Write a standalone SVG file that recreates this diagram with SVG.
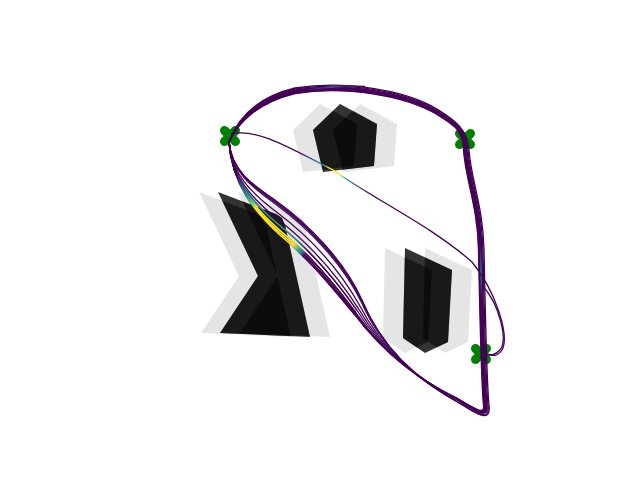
<svg xmlns="http://www.w3.org/2000/svg" xmlns:xlink="http://www.w3.org/1999/xlink" width="640" height="480" viewBox="0 0 640 480">
<style>
.light{fill:#e5e5e5;stroke:none}
.dark{fill:#333333;stroke:none}
.ov{fill:#000000;fill-opacity:0.5;stroke:none}
.mk{stroke:#008000;stroke-width:9;stroke-linecap:round;fill:none}
.tr{fill:none;stroke:#440154;stroke-width:1.3;stroke-linejoin:round}
.hl{stroke-width:1.6}
</style>
<defs>
<polygon id="pent" points="340,104 377,124 374,166 323,172 313,130"/>
<polygon id="chev" points="218,192 276,214 282,218 285,225 310,337 220,333 258,276"/>
<polygon id="rect" points="405,248 452,270 448,342 425,353 403,338"/>
<clipPath id="cpPent"><use xlink:href="#pent"/></clipPath>
<clipPath id="cpChev"><use xlink:href="#chev"/></clipPath>
<clipPath id="cpRect"><use xlink:href="#rect"/></clipPath>
<linearGradient id="gY" gradientUnits="userSpaceOnUse" x1="235" y1="175" x2="302" y2="257">
<stop offset="0" stop-color="#440154"/><stop offset="0.12" stop-color="#3b528b"/><stop offset="0.22" stop-color="#21918c"/><stop offset="0.3" stop-color="#5ec962"/><stop offset="0.37" stop-color="#fde725"/><stop offset="0.86" stop-color="#fde725"/><stop offset="0.92" stop-color="#35b779"/><stop offset="0.97" stop-color="#31688e"/><stop offset="1" stop-color="#440154"/>
</linearGradient>
<linearGradient id="gT" gradientUnits="userSpaceOnUse" x1="235" y1="175" x2="302" y2="257">
<stop offset="0" stop-color="#440154"/><stop offset="0.15" stop-color="#31688e"/><stop offset="0.35" stop-color="#21918c"/><stop offset="0.6" stop-color="#35b779"/><stop offset="0.85" stop-color="#21918c"/><stop offset="1" stop-color="#440154"/>
</linearGradient>
<linearGradient id="gThin" gradientUnits="userSpaceOnUse" x1="300" y1="152" x2="372" y2="192">
<stop offset="0" stop-color="#440154"/><stop offset="0.2" stop-color="#31688e"/><stop offset="0.33" stop-color="#21918c"/><stop offset="0.4" stop-color="#fde725"/><stop offset="0.56" stop-color="#fde725"/><stop offset="0.66" stop-color="#21918c"/><stop offset="0.82" stop-color="#3b528b"/><stop offset="1" stop-color="#440154"/>
</linearGradient>
<linearGradient id="gV" gradientUnits="userSpaceOnUse" x1="480" y1="245" x2="482" y2="300">
<stop offset="0" stop-color="#440154"/><stop offset="0.5" stop-color="#21918c"/><stop offset="1" stop-color="#440154"/>
</linearGradient>
<linearGradient id="gB" gradientUnits="userSpaceOnUse" x1="305" y1="90" x2="360" y2="88">
<stop offset="0" stop-color="#440154"/><stop offset="0.5" stop-color="#3b528b"/><stop offset="1" stop-color="#440154"/>
</linearGradient>
</defs>
<rect width="640" height="480" fill="#ffffff"/>
<g id="obstacle-pentagon">
<use xlink:href="#pent" class="light" transform="translate(-20,0)"/>
<use xlink:href="#pent" class="light" transform="translate(20,0)"/>
<use xlink:href="#pent" class="dark"/>
<g clip-path="url(#cpPent)">
<use xlink:href="#pent" class="ov" transform="translate(-20,0)"/>
<use xlink:href="#pent" class="ov" transform="translate(20,0)"/>
</g>
</g>
<g id="obstacle-chevron">
<use xlink:href="#chev" class="light" transform="translate(-19,0)"/>
<use xlink:href="#chev" class="light" transform="translate(20,0)"/>
<use xlink:href="#chev" class="dark"/>
<g clip-path="url(#cpChev)">
<use xlink:href="#chev" class="ov" transform="translate(-19,0)"/>
<use xlink:href="#chev" class="ov" transform="translate(20,0)"/>
</g>
</g>
<g id="obstacle-block">
<use xlink:href="#rect" class="light" transform="translate(-20,0)"/>
<use xlink:href="#rect" class="light" transform="translate(20,0)"/>
<use xlink:href="#rect" class="dark"/>
<g clip-path="url(#cpRect)">
<use xlink:href="#rect" class="ov" transform="translate(-20,0)"/>
<use xlink:href="#rect" class="ov" transform="translate(20,0)"/>
</g>
</g>
<g id="waypoint-1"><path class="mk" d="M 224.5,130.5 L 235.5,141.5 M 224.5,141.5 L 235.5,130.5"/></g>
<g id="waypoint-2"><path class="mk" d="M 459.5,133.5 L 470.5,144.5 M 459.5,144.5 L 470.5,133.5"/></g>
<g id="waypoint-3"><path class="mk" d="M 475.5,348.5 L 486.5,359.5 M 475.5,359.5 L 486.5,348.5"/></g>
<g id="trajectories">
<path class="tr" d="M 229,142 C 238,118 258,98 295,89 C 345,81 405,91 437,110 C 455,121 467,130 468,150 C 470,180 482,205 483,250 C 484,300 486,385 488,405 C 490,420 480,416 462,404 C 425,385 385,355 362,300 C 345,262 310,225 275,200 C 250,183 232,170 229,142"/>
<path class="tr" style="stroke:#46085c" d="M 229,142 C 238,119 258,99 295,90 C 345,82 405,92 437,111 C 455,122 466,130 467,150 C 469,180 481,205 482,250 C 483,300 485,385 487,405 C 489,419 478,413 460,401 C 424.8,384.8 385,355 361.7,300.6 C 344.4,262.9 310,226.4 275.2,201.4 C 250.2,184.2 232,170.6 229,142"/>
<path class="tr" d="M 229,142 C 238,120 258,100 295,91 C 345,83 405,93 437,112 C 455,123 465,130 466,150 C 468,180 480,205 481,250 C 482,300 484,385 486,405 C 488,418 476,410 458,399 C 424.6,384.6 385,355 361.4,301.2 C 343.8,263.8 310,227.8 275.4,202.8 C 250.4,185.3 232,171.2 229,142"/>
<path class="tr" style="stroke:#471164" d="M 229,142 C 238,121 258,101 295,92 C 345,84 405,94 437,113 C 455,124 464,130 465,150 C 467,180 479,205 480,250 C 481,300 483,385 485,405 C 487,417 479,415 463,405 C 424.4,384.4 385,355 361.2,301.8 C 343.2,264.8 310,229.2 275.6,204.2 C 250.6,186.5 232,171.8 229,142"/>
<path class="tr" d="M 229,142 C 238,122 258,102 295,93 C 345,85 405,95 437,114 C 455,125 463,130 464,150 C 466,180 478,205 479,250 C 480,300 482,385 484,405 C 486,416 477,411 459,400 C 423.2,383.2 385,355 359.5,305.3 C 339.8,270 310,237.3 276.8,212.3 C 251.8,193.2 232,175.3 229,142"/>
<path class="tr" d="M 229,142 C 238,117 258,97 295,88 C 345,80 405,90 437,109 C 455,120 468,130 469,150 C 471,180 483,205 484,250 C 485,300 487,385 489,405 C 491,421 481,417 464,406 C 422.3,382.3 385,355 358.2,308.3 C 336.8,274.7 310,244.3 277.8,219.3 C 252.8,199 232,178.3 229,142"/>
<path class="tr" style="stroke:#46085c" d="M 229,142 C 238,121.5 258,101.5 295,92.5 C 345,84.5 405,94.5 437,113.5 C 455,124.5 463.5,130 464.5,150 C 466.5,180 478.5,205 479.5,250 C 480.5,300 482.5,385 484.5,405 C 486.5,416.5 476,410 457,398 C 421.5,381.5 385,355 357.1,310.5 C 334.5,278.1 310,249.5 278.5,224.5 C 253.5,203.3 232,180.5 229,142"/>
<path class="tr" d="M 229,142 C 238,120.5 258,100.5 295,91.5 C 345,83.5 405,93.5 437,112.5 C 455,123.5 464.5,130 465.5,150 C 467.5,180 479.5,205 480.5,250 C 481.5,300 483.5,385 485.5,405 C 487.5,417.5 478,413 461,402 C 420.8,380.8 385,355 356,312.8 C 332.3,281.6 310,254.8 279.3,229.8 C 254.3,207.7 232,182.8 229,142"/>
<path class="tr" d="M 229,142 C 238,119.5 258,99.5 295,90.5 C 345,82.5 405,92.5 437,111.5 C 455,122.5 465.5,130 466.5,150 C 468.5,180 480.5,205 481.5,250 C 482.5,300 484.5,385 486.5,405 C 488.5,418.5 477,412 460,401 C 420.4,380.4 385,355 355.5,314 C 331,283.4 310,257.6 279.7,232.6 C 254.7,210 232,184 229,142"/>
<path class="tr" d="M 229,142 C 238,122.5 258,102.5 295,93.5 C 345,85.5 405,95.5 437,114.5 C 455,125.5 462.5,130 463.5,150 C 465.5,180 477.5,205 478.5,250 C 479.5,300 481.5,385 483.5,405 C 485.5,415.5 475,409 456,398 C 420,380 385,355 355,315 C 330,285 310,260 280,235 C 255,212 232,185 229,142"/>
<path class="tr" style="stroke:url(#gT)" d="M 357.1,310.5 C 334.5,278.1 310,249.5 278.5,224.5 C 253.5,203.3 232,180.5 229,142"/>
<path class="tr hl" style="stroke:url(#gY)" d="M 356,312.8 C 332.3,281.6 310,254.8 279.3,229.8 C 254.3,207.7 232,182.8 229,142"/>
<path class="tr hl" style="stroke:url(#gY)" d="M 355.5,314 C 331,283.4 310,257.6 279.7,232.6 C 254.7,210 232,184 229,142"/>
<path class="tr hl" style="stroke:url(#gY)" d="M 355,315 C 330,285 310,260 280,235 C 255,212 232,185 229,142"/>
<path class="tr" style="stroke:url(#gB)" d="M 295,91.5 C 320,87.5 345,85.5 365,86.5"/>
<path class="tr" style="stroke:url(#gV)" d="M 480.5,245 C 481,262 481.3,280 481.6,300"/>
<path class="tr" d="M 482,285 C 500,305 508,340 500,350 C 495,356 490,355 486,354"/>
<path class="tr" style="stroke:url(#gThin)" d="M 231,134 C 255,128 285,145 333,170 C 375,200 430,225 472,262 C 495,290 510,335 502,350 C 497,358 490,355 485,354"/>
</g>
</svg>
